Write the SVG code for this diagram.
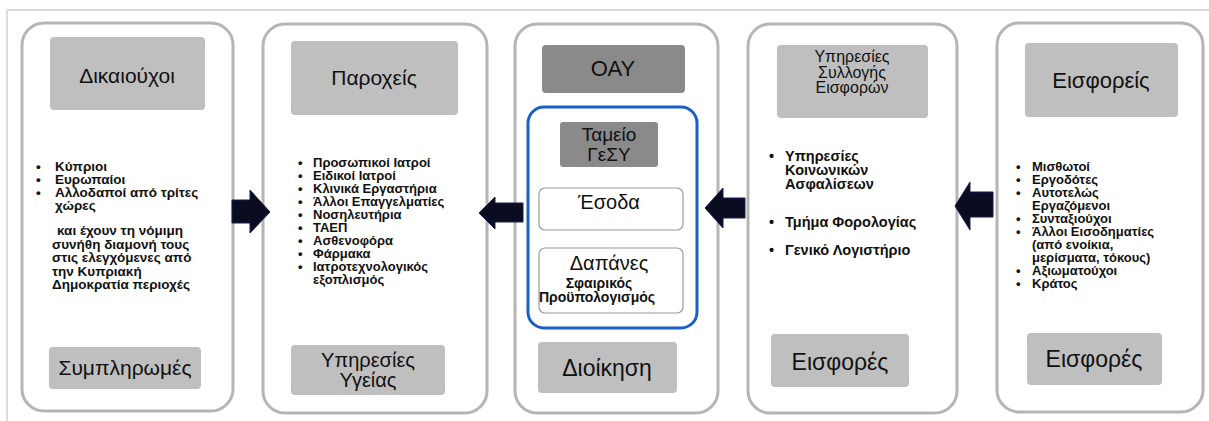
<svg xmlns="http://www.w3.org/2000/svg" width="1209" height="421" viewBox="0 0 1209 421">
<defs>
<style>
.col{fill:#fff;stroke:#b5b5b5;stroke-width:3}
.hdr{fill:#bfbfbf}
.dark{fill:#8a8a8a}
.t{font-family:"Liberation Sans",Arial,sans-serif;fill:#111}
.c{text-anchor:middle}
.b{font-weight:bold}
.arrow{fill:#0b0b22;stroke:#1a1f4a;stroke-width:1}
</style>
</defs>
<rect width="1209" height="421" fill="#fff"/>
<path d="M7,421 V10 H1209" fill="none" stroke="#dcdcdc" stroke-width="2"/>

<g id="col1">
<rect class="col" x="22" y="23" width="211" height="388" rx="22"/>
<rect class="hdr" x="50" y="37" width="155" height="73" rx="4"/>
<text class="t c" x="127" y="83" font-size="21">Δικαιούχοι</text>
<g class="t b" font-size="13.5">
<text x="36" y="171">•</text><text x="55" y="171">Κύπριοι</text>
<text x="36" y="184">•</text><text x="55" y="184">Ευρωπαίοι</text>
<text x="36" y="197">•</text><text x="55" y="197">Αλλοδαποί από τρίτες</text>
<text x="55" y="210">χώρες</text>
<text x="57" y="235">και έχουν τη νόμιμη</text>
<text x="52" y="248.5">συνήθη διαμονή τους</text>
<text x="52" y="262">στις ελεγχόμενες από</text>
<text x="52" y="275.5">την Κυπριακή</text>
<text x="52" y="289">Δημοκρατία περιοχές</text>
</g>
<rect class="hdr" x="49" y="347" width="152" height="42" rx="4"/>
<text class="t c" x="125" y="375" font-size="21">Συμπληρωμές</text>
</g>

<g id="col2">
<rect class="col" x="263" y="24" width="224" height="389" rx="22"/>
<rect class="hdr" x="291" y="41" width="167" height="74" rx="4"/>
<text class="t c" x="374" y="85" font-size="21">Παροχείς</text>
<g class="t b" font-size="13">
<text x="298" y="167">•</text><text x="313" y="167">Προσωπικοί Ιατροί</text>
<text x="298" y="180">•</text><text x="313" y="180">Ειδικοί Ιατροί</text>
<text x="298" y="193">•</text><text x="313" y="193">Κλινικά Εργαστήρια</text>
<text x="298" y="206">•</text><text x="313" y="206">Άλλοι Επαγγελματίες</text>
<text x="298" y="219">•</text><text x="313" y="219">Νοσηλευτήρια</text>
<text x="298" y="232">•</text><text x="313" y="232">ΤΑΕΠ</text>
<text x="298" y="245">•</text><text x="313" y="245">Ασθενοφόρα</text>
<text x="298" y="258">•</text><text x="313" y="258">Φάρμακα</text>
<text x="298" y="271">•</text><text x="313" y="271">Ιατροτεχνολογικός</text>
<text x="313" y="284">εξοπλισμός</text>
</g>
<rect class="hdr" x="291" y="345" width="154" height="50" rx="4"/>
<text class="t c" x="368" y="367" font-size="20">Υπηρεσίες</text>
<text class="t c" x="368" y="387" font-size="20">Υγείας</text>
</g>

<g id="col3">
<rect class="col" x="515" y="24" width="203" height="389" rx="22"/>
<rect class="dark" x="542" y="45" width="143" height="48" rx="4"/>
<text class="t c" x="613" y="76" font-size="22">ΟΑΥ</text>
<rect x="528" y="107" width="169" height="221" rx="16" fill="none" stroke="#1c5fc9" stroke-width="3"/>
<rect class="dark" x="560" y="122" width="98" height="45" rx="3"/>
<text class="t c" x="609" y="141" font-size="19">Ταμείο</text>
<text class="t c" x="609" y="161" font-size="19">ΓεΣΥ</text>
<rect x="539" y="188" width="144" height="42" rx="6" fill="#fff" stroke="#9a9a9a" stroke-width="1.2"/>
<text class="t c" x="609" y="209" font-size="20">Έσοδα</text>
<rect x="539" y="248" width="144" height="65" rx="6" fill="#fff" stroke="#9a9a9a" stroke-width="1.2"/>
<text class="t c" x="609" y="270" font-size="20">Δαπάνες</text>
<text class="t b c" x="599" y="288" font-size="14">Σφαιρικός</text>
<text class="t b c" x="597" y="302" font-size="14">Προϋπολογισμός</text>
<rect class="hdr" x="538" y="342" width="139" height="51" rx="4"/>
<text class="t c" x="607" y="376" font-size="23">Διοίκηση</text>
</g>

<g id="col4">
<rect class="col" x="748" y="24" width="209" height="389" rx="22"/>
<rect class="hdr" x="777" y="45" width="151" height="73" rx="4"/>
<text class="t c" x="852" y="62" font-size="16">Υπηρεσίες</text>
<text class="t c" x="852" y="77.5" font-size="16">Συλλογής</text>
<text class="t c" x="852" y="93" font-size="16">Εισφορών</text>
<g class="t b" font-size="14.5">
<text x="769" y="161">•</text><text x="785" y="161">Υπηρεσίες</text>
<text x="785" y="175">Κοινωνικών</text>
<text x="785" y="189">Ασφαλίσεων</text>
<text x="769" y="227">•</text><text x="785" y="227">Τμήμα Φορολογίας</text>
<text x="769" y="255">•</text><text x="785" y="255">Γενικό Λογιστήριο</text>
</g>
<rect class="hdr" x="771" y="334" width="138" height="53" rx="4"/>
<text class="t c" x="840" y="370" font-size="23">Εισφορές</text>
</g>

<g id="col5">
<rect class="col" x="997" y="23" width="206" height="389" rx="22"/>
<rect class="hdr" x="1025" y="43" width="153" height="74" rx="4"/>
<text class="t c" x="1101" y="88" font-size="22">Εισφορείς</text>
<g class="t b" font-size="13">
<text x="1016" y="171">•</text><text x="1032" y="171">Μισθωτοί</text>
<text x="1016" y="184">•</text><text x="1032" y="184">Εργοδότες</text>
<text x="1016" y="197">•</text><text x="1032" y="197">Αυτοτελώς</text>
<text x="1032" y="210">Εργαζόμενοι</text>
<text x="1016" y="223">•</text><text x="1032" y="223">Συνταξιούχοι</text>
<text x="1016" y="236">•</text><text x="1032" y="236">Άλλοι Εισοδηματίες</text>
<text x="1032" y="249">(από ενοίκια,</text>
<text x="1032" y="262">μερίσματα, τόκους)</text>
<text x="1016" y="275">•</text><text x="1032" y="275">Αξιωματούχοι</text>
<text x="1016" y="288">•</text><text x="1032" y="288">Κράτος</text>
</g>
<rect class="hdr" x="1027" y="333" width="135" height="52" rx="4"/>
<text class="t c" x="1094" y="367" font-size="23">Εισφορές</text>
</g>

<g id="connectors">
<polygon class="arrow" points="232,200 250,200 250,190 270,212 250,233 250,223 232,223"/>
<polygon class="arrow" points="523,203 495,203 495,197 479,213 495,229 495,222 523,222"/>
<polygon class="arrow" points="745,198 723,198 723,188 705,208 723,228 723,218 745,218"/>
<polygon class="arrow" points="993,192 970,192 970,182 955,206 970,230 970,217 993,217"/>
</g>
</svg>
